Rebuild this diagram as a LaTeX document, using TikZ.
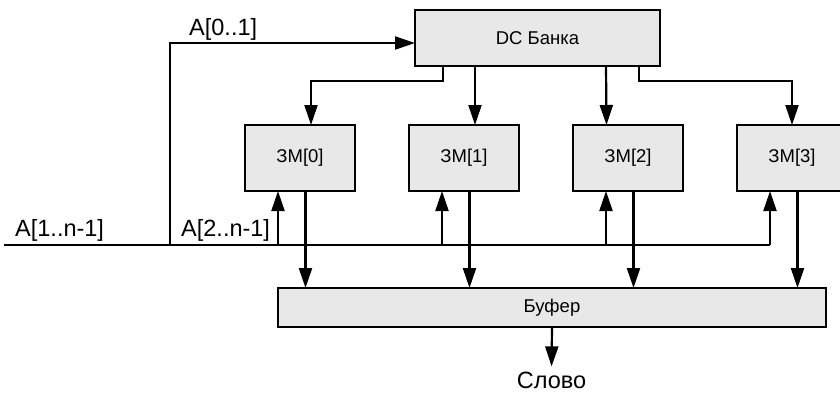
\documentclass[tikz,border=0pt]{standalone}
\usepackage{fontspec}
\setmainfont{Liberation Sans}
\usetikzlibrary{arrows.meta}

\tikzset{
  block/.style={draw, fill=black!9, line width=2.2pt, inner sep=0pt, outer sep=0pt,
    font=\fontsize{18.5}{22}\selectfont},
  wire/.style={line width=2.2pt},
  sig/.style={line width=2.2pt, -{Triangle[length=20pt, width=13pt]}},
  lbl/.style={inner sep=0pt, font=\fontsize{23.5}{28}\selectfont}
}

\begin{document}
\begin{tikzpicture}[x=1pt, y=-1pt]
    \clip (0,0) rectangle (840,392);

    % Bank decoder
    \node[block, minimum width=245pt, minimum height=56pt] (dc) at (537.5,38) {DC Банка};

    % Memory modules
    \foreach \i in {0,...,3} {
        \node[block, minimum width=110pt, minimum height=66pt] (zm\i) at (300+164*\i,158) {ЗМ[\i]};
    }

    % Output buffer
    \node[block, minimum width=548pt, minimum height=39pt] (buf) at (552,307.5) {Буфер};

    % Address bus
    \coordinate (busL) at (4,245);
    \coordinate (busR) at (770,245);
    \coordinate (tap) at (170,245);
    \draw[wire] (busL) -- (busR);
    \node[lbl, anchor=base west] (a1n) at (15,236) {A[1..n-1]};
    \node[lbl, anchor=base west] (a2n) at (181,236) {A[2..n-1]};

    % Bank select bits
    \draw[sig] (tap) |- ([yshift=-5pt]dc.west);
    \node[lbl, anchor=base west] (a01) at (189,35) {A[0..1]};

    % Decoder outputs
    \draw[sig] ([xshift=28pt]dc.south west) -- ++(0,15) -| ([xshift=11pt]zm0.north);
    \draw[sig] ([xshift=60pt]dc.south west) -- ([xshift=11pt]zm1.north);
    \draw[sig] ([xshift=191pt]dc.south west) -- ([xshift=-21.5pt]zm2.north);
    \draw[sig] ([xshift=224pt]dc.south west) -- ++(0,15) -| (zm3.north);

    % Address in, data out
    \foreach \i in {0,...,3} {
        \draw[sig] ([xshift=33pt]zm\i.south west) ++(0,54) -- ([xshift=33pt]zm\i.south west);
        \draw[sig] ([xshift=60.5pt]zm\i.south west) -- ++(0,97);
    }

    % Word output
    \node[lbl, anchor=base] (out) at (551.5,388) {Слово};
    \draw[sig, shorten >=5pt] (buf.south) -- (out.north);
\end{tikzpicture}
\end{document}
